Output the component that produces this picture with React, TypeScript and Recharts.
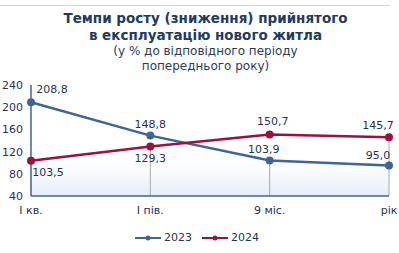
import React from "react";
import {
	ComposedChart,
	Line,
	Area,
	XAxis,
	YAxis,
	ReferenceLine,
	LabelList,
} from "recharts";

const categories = ["I кв.", "I пів.", "9 міс.", "рік"];
const values2023 = [208.8, 148.8, 103.9, 95.0];
const values2024 = [103.5, 129.3, 150.7, 145.7];
const yTicks = [40, 80, 120, 160, 200, 240];
// top ends of the grey drop lines (none at the first category)
const dropTops: (number | null)[] = [null, 129.3, 103.9, 145.7];

const BLUE = "#3e6594";
const RED = "#9c0f3f";
const TEXT = "#1f3352";
const FONT = "'DejaVu Sans', Verdana, sans-serif";

// label offsets relative to each point: [dx, dy]
const offsets2023 = [
	[21, -13],
	[0, -11],
	[-6, -11],
	[-11, -10],
];
const offsets2024 = [
	[17, 12],
	[0, 12],
	[3, -13],
	[-11, -12],
];

const chartData = categories.map((cat, i) => ({
	cat,
	y2023: values2023[i],
	y2024: values2024[i],
	low: Math.min(values2023[i], values2024[i]),
}));

const fmt = (v: number) => v.toFixed(1).replace(".", ",");

function makeLabel(offsets: number[][]) {
	return (props: any) => {
		const { x, y, value, index } = props;
		const [dx, dy] = offsets[index] || [0, -10];
		return (
			<text
				x={x + dx}
				y={y + dy}
				textAnchor="middle"
				dominantBaseline="central"
				fill={TEXT}
				fontSize={11}
				fontFamily={FONT}
			>
				{fmt(Number(value))}
			</text>
		);
	};
}

function LegendItem({ color, label }: { color: string; label: string }) {
	return (
		<span style={{ display: "inline-flex", alignItems: "center", marginRight: 10 }}>
			<svg width={26} height={6} style={{ marginRight: 3 }}>
				<line x1={0} y1={3} x2={26} y2={3} stroke={color} strokeWidth={2} />
				<circle cx={13} cy={3} r={2.5} fill={color} />
			</svg>
			<span>{label}</span>
		</span>
	);
}

export default function App() {
	return (
		<div
			style={{
				position: "absolute",
				left: 0,
				top: 0,
				width: 399,
				height: 253,
				background: "#fff",
				fontFamily: FONT,
				color: TEXT,
				overflow: "hidden",
			}}
		>
			<div
				style={{
					position: "absolute",
					left: 0,
					top: 5,
					width: 390,
					height: 1,
					background: "#d4d4d4",
				}}
			/>
			<div
				style={{
					position: "absolute",
					left: 0,
					top: 9.5,
					width: 399,
					paddingLeft: 12,
					boxSizing: "border-box",
					textAlign: "center",
					fontWeight: "bold",
					fontSize: 13.5,
					lineHeight: "17.5px",
					color: "#233a5e",
				}}
			>
				Темпи росту (зниження) прийнятого
				<br />в експлуатацію нового житла
			</div>
			<div
				style={{
					position: "absolute",
					left: 0,
					top: 44,
					width: 399,
					paddingLeft: 12,
					boxSizing: "border-box",
					textAlign: "center",
					fontSize: 12,
					lineHeight: "15px",
					color: "#2a3b58",
				}}
			>
				(у % до відповідного періоду
				<br />
				попереднього року)
			</div>

			<div style={{ position: "absolute", left: 0, top: 0 }}>
				<ComposedChart
					width={399}
					height={253}
					data={chartData}
					margin={{ top: 85, right: 10, bottom: 27, left: 0 }}
				>
					<defs>
						<linearGradient id="fillLow" x1="0" y1="0" x2="0" y2="1">
							<stop offset="0%" stopColor="#ffffff" stopOpacity={0} />
							<stop offset="100%" stopColor="#d3e1f1" stopOpacity={1} />
						</linearGradient>
					</defs>
					<XAxis
						dataKey="cat"
						scale="point"
						height={30}
						padding={{ left: 0, right: 0 }}
						axisLine={{ stroke: BLUE, strokeWidth: 1.5 }}
						tickLine={false}
						tickMargin={4}
						interval={0}
						tick={{ fill: TEXT, fontSize: 11, fontFamily: FONT }}
					/>
					<YAxis
						type="number"
						domain={[40, 240]}
						ticks={yTicks}
						interval={0}
						width={31}
						axisLine={{ stroke: BLUE, strokeWidth: 1.5 }}
						tickLine={false}
						tick={{ fill: TEXT, fontSize: 11, fontFamily: FONT }}
					/>
					<Area
						dataKey="low"
						type="linear"
						stroke="none"
						fill="url(#fillLow)"
						isAnimationActive={false}
						activeDot={false}
					/>
					{categories.map((cat, i) =>
						dropTops[i] == null ? null : (
							<ReferenceLine
								key={cat}
								segment={[
									{ x: cat, y: 40 },
									{ x: cat, y: dropTops[i] as number },
								]}
								stroke="#a3aab8"
								strokeWidth={1}
							/>
						)
					)}
					<Line
						dataKey="y2023"
						type="linear"
						stroke={BLUE}
						strokeWidth={2.5}
						dot={{ r: 4, fill: BLUE, stroke: BLUE, strokeWidth: 0 }}
						isAnimationActive={false}
					>
						<LabelList dataKey="y2023" content={makeLabel(offsets2023)} />
					</Line>
					<Line
						dataKey="y2024"
						type="linear"
						stroke={RED}
						strokeWidth={2.5}
						dot={{ r: 4, fill: RED, stroke: RED, strokeWidth: 0 }}
						isAnimationActive={false}
					>
						<LabelList dataKey="y2024" content={makeLabel(offsets2024)} />
					</Line>
				</ComposedChart>
			</div>

			<div
				style={{
					position: "absolute",
					left: 135,
					top: 231,
					display: "flex",
					fontSize: 11,
					lineHeight: "14px",
					color: TEXT,
				}}
			>
				<LegendItem color={BLUE} label="2023" />
				<LegendItem color={RED} label="2024" />
			</div>
		</div>
	);
}
